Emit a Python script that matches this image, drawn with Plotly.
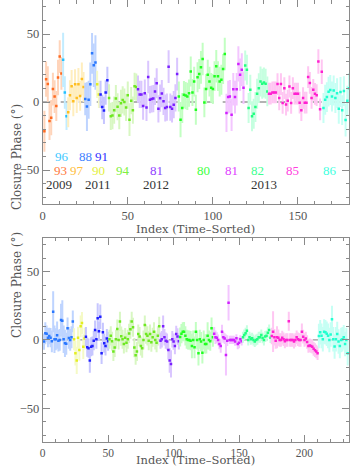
import plotly.graph_objects as go

# ---- top panel data (closure phase, deg), groups in time order ----
top_names = ["93", "96", "97", "88", "90", "91", "94", "81", "80", "81", "82", "85", "86"]
top_keys = ["c93", "c96", "c97", "c88", "c90", "c91", "c94", "c81a", "c80", "c81b", "c82", "c85", "c86"]

top_v93 = [-21.5, 16.8, 13.2, -14, -11.5, 9.5, 4, -3, 18, 33.4, 21]
top_e93 = [15, 13, 13, 14, 13, 12, 12, 11, 13, 12, 12]
top_v96 = [31, 7, -10.5]
top_e96 = [20, 12, 10]
top_v97 = [-7.5, 5, 11.5, 0.5, 13, 3, 13, 4.5, 17, 11]
top_e97 = [11, 11, 12, 11, 11, 11, 12, 11, 12, 11]
top_v88 = [2.2, -3.4, 1.7, 13, 35.8, 27, 29]
top_e88 = [12, 18, 14, 16, 15, 16, 20]
top_v90 = [13, 5.6]
top_e90 = [10, 10]
top_v91 = [5.6, -3.7, -6.2, 7, 16]
top_e91 = [10, 9, 10, 9, 10]
top_v94 = [3, -10.5, -10, -6, 2.5, -3.5, -10, -1, 1.5, 0, -4, 5, -13, 1, -6, 11.5, 11]
top_e94 = [10, 10, 10, 10, 10, 10, 10, 10, 10, 10, 10, 10, 12, 10, 10, 10, 10]
top_v81a = [9.4, 5.6, 5.6, -3, 6.5, -4, 18.4, 1.7, 2.2, 2.5, 7.8, 13.8, -5, 2.8, 6.2, 0.5,
            -4.4, -3.7, 26, -3.7, -5, -2, 3, 20.5]
top_e81a = [10, 10, 10, 10, 10, 10, 12, 10, 10, 10, 10, 11, 10, 10, 10, 10,
            10, 10, 12, 10, 10, 10, 10, 12]
top_v80 = [4.1, -13, -4.4, 5.4, 4.7, 4.1, 6.5, 22.4, 7, 15, -5.7, 18.2, 20.6, 25.5, 31.6,
           -0.3, 9.5, 20, 15, 10.4, 9.5, 19, 26.3, 19, 15, 16.3, 24.3, 35.3]
top_e80 = [11, 13, 11, 10, 10, 10, 10, 11, 10, 11, 11, 11, 11, 12, 12,
           11, 11, 11, 11, 11, 11, 11, 12, 11, 11, 11, 11, 12]
top_v81b = [-8, 3.6, 4.1, -9.4, 9.4, 3.6, 9.4, 28, 20, 23.8, 10.5]
top_e81b = [14, 12, 12, 12, 12, 12, 12, 13, 12, 12, 12]
top_v82 = [26.8, 23.7, -4.4, 9, -10.5, -8.6, -3.7, 6.1, 10.2, 15.1, 13.4, 14.4, 13.4, 7.8]
top_e82 = [11, 11, 11, 11, 11, 11, 11, 11, 11, 11, 11, 11, 11, 11]
top_v85 = [6.1, 6.1, 7, 7, 7, 13.2, 2.9, 13.2, -0.7, 10.2, -1.9, 1, 11.4, -0.7, 10.2, 6.1,
           6.1, 6.1, -0.5, -6, 2.9, -0.5, -0.5, 18.3, 14, 3, 9, 6, 5, 29.7, -5.4, 22.3]
top_e85 = [8, 8, 8, 8, 8, 8, 9, 8, 8, 8, 8, 8, 8, 8, 8, 8,
           8, 8, 8, 8, 8, 8, 8, 8, 8, 8, 8, 8, 8, 9, 8, 9]
top_v86 = [-4.4, 1.7, 3.6, 7.6, 8.8, 4, 8.5, 2.9, 6.5, -5, 7.4, -6, 8, -13.3, 1, 10.2]
top_e86 = [11, 11, 11, 11, 11, 11, 11, 11, 11, 11, 11, 11, 11, 12, 11, 11]

# ---- bottom panel data ----
bot_keys = ["c88", "c90", "c91", "c94", "c81a", "c80", "c81b", "c82", "c85", "c86"]

bot_v1 = [-1.2, 4.9, 4.5, 1.7, 2.9, 1.7, -1, 20.6, 0.5, 0.5, 3.5, -0.5, 0, 14.6, 14, 0.5,
          -2.5, -2.8, 8.5, 1.5, 0, 2, 13.6]
bot_e1 = [6, 8, 6, 7, 6, 7, 8, 15, 10, 8, 10, 8, 8, 12, 15, 10, 10, 8, 8, 8, 8, 8, 8]
bot_v2 = [0.5, -9.7, -15, 1.7, -7.3, 10, 12.4, -5, 1]
bot_e2 = [8, 9, 10, 8, 8, 8, 8, 9, 8]
bot_v3 = [2.4, -5.4, -6, -15, -5, -4.4, -0.5, 7.3, 0.5, 15.9, 6.3, 17, -9.7, 5.6, -2.4, -4.4, 1, -1]
bot_e3 = [7, 7, 7, 9, 7, 7, 7, 7, 7, 11, 7, 9, 8, 7, 7, 7, 7, 7]
bot_v4 = [0.5, 3, -1, -8.5, -5.5, 0.5, 8, 0, 13.6, 2.8, 0.5, -3, 1.7, -2, 0.5, 4.8, 7.8, 13.6,
          9.3, -5.6, -11.2, -8.5, 4.3, 2.5, -4.4, -6, 0, 11, 4.3, 3, -0.5, 4.3, -1.7, 2, 6, 0,
          -2, 3, 10]
bot_e4 = [7] * 39
bot_v5 = [-0.5, 0.5, 10, 2, -0.5, -1.2, -7.3, -15, -17.6, 0.5, -1.2, -4.4, 4.4, 2.5, -1]
bot_e5 = [6, 6, 8, 6, 6, 6, 7, 9, 10, 6, 6, 6, 6, 6, 6]
bot_v6 = [2.2, 4.6, 6, 6.1, 3, 0.5, 0, 0, -0.5, -4.4, 0, -5.4, 6.1, 0, -9.7, 0.5, -1.2, -9.3,
          0, -2.9, -3, 3, 0, -1, 8.5, 2]
bot_e6 = [7, 7, 7, 7, 7, 7, 7, 7, 7, 9, 7, 8, 7, 7, 9, 7, 7, 8, 7, 7, 7, 10, 7, 7, 8, 7]
bot_v7 = [4.5, 2, 1.7, 0, -2.9, -4.4, 6.1, 2, 1, -11, -0.5, 27.3, 0, 0, 0, 0, -1.2, 1.2,
          -2.9, -2, 0.5, -1]
bot_e7 = [5, 5, 4, 4, 4, 5, 5, 4, 4, 15, 4, 13, 3, 3, 3, 3, 3, 3, 4, 4, 3, 3]
bot_v8 = [2, 3.7, 4.9, 6.8, 0, 2, 0.5, 1.2, 0, -1.2, 0, 0.5, 2, 2, 3.7, 1.5, 0, 2.5, 3, 5.3,
          7.3, 1.7]
bot_e8 = [4] * 22
bot_v9 = [2.9, 6.1, 2, -0.5, 2, 1.7, 0, 0, 1.7, 0.5, -1, 0, 0, 13.7, 0, 0, 0, -1.2, 0, 2,
          0.5, 0, 0, 6.1, 2.4, 0, 1, -1.5, -4.4, -4, -4.4, -5, -6.5, -7.5, -8.5, -9.7]
bot_e9 = [6, 15, 6, 6, 8, 6, 5, 5, 5, 5, 5, 5, 5, 7, 5, 5, 5, 5, 5, 5,
          5, 5, 5, 6, 5, 5, 5, 5, 5, 5, 5, 5, 5, 5, 5, 5]
bot_v10 = [2.9, 5.6, 3, 0.5, 6.1, 5.6, 4.6, 3, 0, 4, 15.1, 0.5, -4.8, 0.5, 4.4, -1.2, -4.4,
           0, 0.5, 2, -3, 0, -9.7]
bot_e10 = [9, 9, 9, 9, 9, 9, 9, 9, 9, 9, 10, 9, 9, 9, 9, 9, 9, 9, 9, 9, 9, 9, 9]

# marker colour / pale error-bar colour for each source group
colors = {
    "c93": ("#ff6a20", "#ffd4ba"), "c96": ("#20c0ff", "#c2ecff"),
    "c97": ("#ffbe20", "#ffeebe"), "c88": ("#2a78ff", "#bed4ff"),
    "c90": ("#e4ee20", "#f5fac6"), "c91": ("#2020ff", "#c6c6ff"),
    "c94": ("#6ee820", "#d8f7c2"), "c81a": ("#7a20ff", "#dac6ff"),
    "c80": ("#20ff20", "#c2ffc2"), "c81b": ("#d020ff", "#f3c6ff"),
    "c82": ("#20ff80", "#c6ffe0"), "c85": ("#ff20d0", "#ffc6f2"),
    "c86": ("#20ffd0", "#c6fff4"),
}
label_colors = {
    "c93": "#ff7a40", "c96": "#40c8ff", "c97": "#ffc040", "c88": "#3c80ff",
    "c90": "#e4f040", "c91": "#3030ff", "c94": "#80f040", "c81a": "#9040ff",
    "c80": "#40ff40", "c81b": "#e040ff", "c82": "#40ff90", "c85": "#ff40e0",
    "c86": "#40ffe0",
}

top_vals = [top_v93, top_v96, top_v97, top_v88, top_v90, top_v91, top_v94, top_v81a,
            top_v80, top_v81b, top_v82, top_v85, top_v86]
top_errs = [top_e93, top_e96, top_e97, top_e88, top_e90, top_e91, top_e94, top_e81a,
            top_e80, top_e81b, top_e82, top_e85, top_e86]
bot_vals = [bot_v1, bot_v2, bot_v3, bot_v4, bot_v5, bot_v6, bot_v7, bot_v8, bot_v9, bot_v10]
bot_errs = [bot_e1, bot_e2, bot_e3, bot_e4, bot_e5, bot_e6, bot_e7, bot_e8, bot_e9, bot_e10]

FONT = "DejaVu Serif"       # axis titles
NUMFONT = "Liberation Serif"  # numbers (ticks, labels, years)
TXT = "#555555"
FS = 12
NFS = 13

fig = go.Figure()


def add_panel(keys, vals, errs, xa, ya):
    start = 1
    for k, v, e in zip(keys, vals, errs):
        xs = list(range(start, start + len(v)))
        start += len(v)
        fig.add_trace(go.Scatter(
            x=xs, y=v, mode="markers", xaxis=xa, yaxis=ya,
            marker=dict(symbol="square", size=2.5, color=colors[k][0]),
            error_y=dict(type="data", array=e, color=colors[k][1], thickness=2, width=0),
            showlegend=False, hoverinfo="skip",
        ))


add_panel(top_keys, top_vals, top_errs, "x", "y")
add_panel(bot_keys, bot_vals, bot_errs, "x2", "y2")

# zero lines
for xa, ya, xmax in [("x", "y", 180), ("x2", "y2", 234)]:
    fig.add_shape(type="line", xref=xa, yref=ya, x0=0, x1=xmax, y0=0, y1=0,
                  line=dict(color="#9a9a9a", width=1.3, dash="dash"), layer="below")

# source / year labels in the top panel
label_pos = [(10.2, -50.3), (11.5, -39.8), (20, -50.3), (24.9, -39.8), (32.7, -50.3),
             (34.5, -39.8), (47.4, -50.3), (66.6, -50.3), (94.5, -50.3), (110.8, -50.3),
             (126.2, -50.3), (146.8, -50.3), (168.6, -50.3)]
annotations = []
for name, k, (lx, ly) in zip(top_names, top_keys, label_pos):
    annotations.append(dict(x=lx, y=ly, xref="x", yref="y", text=name, showarrow=False,
                            font=dict(family=NUMFONT, size=NFS, color=label_colors[k])))
years = ["2009", "2011", "2012", "2013"]
year_x = [9.8, 32.3, 66.6, 129.8]
for yr, yx in zip(years, year_x):
    annotations.append(dict(x=yx, y=-60.3, xref="x", yref="y", text=yr, showarrow=False,
                            font=dict(family=NUMFONT, size=NFS, color="#333333")))

# axis titles
for yc in [1 - 102 / 473, 1 - 340 / 473]:
    annotations.append(dict(x=8 / 350, y=yc, xref="paper", yref="paper",
                            text="Closure Phase (\u00b0)", textangle=-90, showarrow=False,
                            font=dict(family=FONT, size=FS, color=TXT)))
for yc in [1 - 228.5 / 473, 1 - 468.5 / 473]:
    annotations.append(dict(x=195 / 350, y=yc, xref="paper", yref="paper",
                            text="Index (Time\u2013Sorted)", showarrow=False,
                            font=dict(family=FONT, size=11.5, color=TXT)))

minor = dict(dtick=10, tick0=0, ticks="inside", ticklen=3.5, tickcolor="#8a8a8a")
axis_common = dict(showline=True, linecolor="#8a8a8a", linewidth=1, mirror="allticks",
                   ticks="inside", ticklen=7, tickcolor="#8a8a8a", showgrid=False,
                   zeroline=False, automargin=False, minor=minor)
tick_font = dict(family=NUMFONT, size=12.5, color=TXT)

fig.update_layout(
    width=350, height=473,
    margin=dict(l=0, r=0, t=0, b=0, autoexpand=False),
    paper_bgcolor="white", plot_bgcolor="white",
    xaxis=dict(domain=[42.7 / 350, 349 / 350], range=[0, 180], anchor="y",
               tickvals=[0, 50, 100, 150], tickfont=tick_font, **axis_common),
    yaxis=dict(domain=[1 - 204 / 473, 1.0], range=[-75, 75], anchor="x",
               tickvals=[-50, 0, 50], ticktext=["\u221250", "0", "50"],
               tickfont=tick_font, **axis_common),
    xaxis2=dict(domain=[42.7 / 350, 349 / 350], range=[0, 234], anchor="y2",
                tickvals=[0, 50, 100, 150, 200],
                tickfont=dict(family=NUMFONT, size=11.5, color=TXT), **axis_common),
    yaxis2=dict(domain=[1 - 442.3 / 473, 1 - 237.6 / 473], range=[-75, 75], anchor="x2",
                tickvals=[-50, 0, 50], ticktext=["\u221250", "0", "50"],
                tickfont=tick_font, **axis_common),
    annotations=annotations,
)

# the page body has a default 8px margin; drop it so the figure sits at the window corner
fig.write_html("out.html", config={"displayModeBar": False},
               post_script="document.body.style.margin='0';")
